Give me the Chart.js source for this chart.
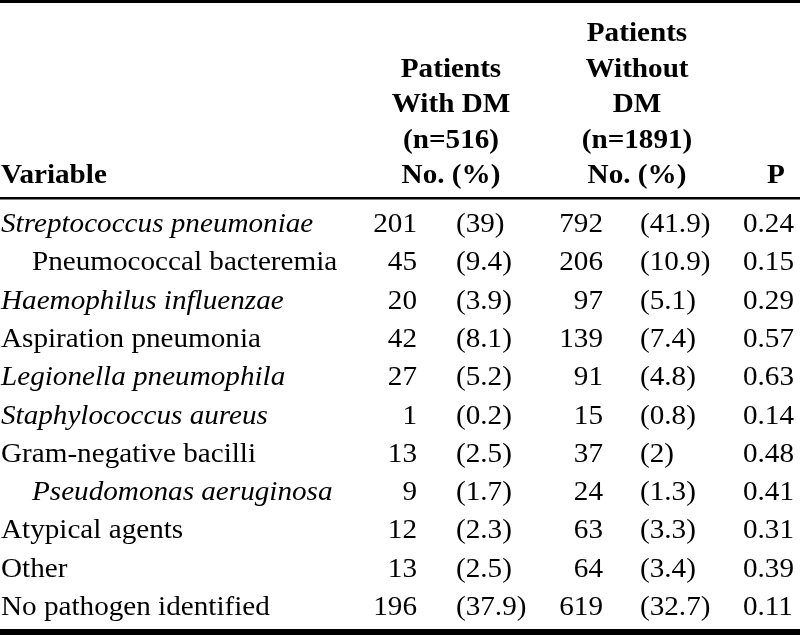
<!DOCTYPE html>
<html>
<head>
<meta charset="utf-8">
<title>Pathogens by diabetes status</title>
<script src="https://cdn.jsdelivr.net/npm/chart.js@4/dist/chart.umd.min.js"></script>
<style>
    html, body { margin: 0; padding: 0; background: #fff; }
    #wrap { width: 800px; height: 635px; }
    /* touch the faces so the browser loads them */
    .preload { position: absolute; left: -999px; font-family: "Liberation Serif"; }
</style>
</head>
<body>
<span class="preload">a</span><span class="preload" style="font-weight:bold">a</span><span class="preload" style="font-style:italic">a</span>
<div id="wrap"><canvas id="tbl" width="800" height="635"></canvas></div>
<script>
// ===== TABLE DATA =====
const variables = [
    'Streptococcus pneumoniae',
    'Pneumococcal bacteremia',
    'Haemophilus influenzae',
    'Aspiration pneumonia',
    'Legionella pneumophila',
    'Staphylococcus aureus',
    'Gram-negative bacilli',
    'Pseudomonas aeruginosa',
    'Atypical agents',
    'Other',
    'No pathogen identified'
];
const italicRows = [true, false, true, false, true, true, false, true, false, false, false];
const indentRows = [false, true, false, false, false, false, false, true, false, false, false];

const dmCount = [201, 45, 20, 42, 27, 1, 13, 9, 12, 13, 196];
const dmPct = ['39', '9.4', '3.9', '8.1', '5.2', '0.2', '2.5', '1.7', '2.3', '2.5', '37.9'];
const noDmCount = [792, 206, 97, 139, 91, 15, 37, 24, 63, 64, 619];
const noDmPct = ['41.9', '10.9', '5.1', '7.4', '4.8', '0.8', '2', '1.3', '3.3', '3.4', '32.7'];
const pValues = ['0.24', '0.15', '0.29', '0.57', '0.63', '0.14', '0.48', '0.41', '0.31', '0.39', '0.11'];

// header lines, bottom-aligned per column
const headVariable = ['Variable'];
const headDm = ['Patients', 'With DM', '(n=516)', 'No. (%)'];
const headNoDm = ['Patients', 'Without', 'DM', '(n=1891)', 'No. (%)'];
const headP = ['P'];

// ===== LAYOUT =====
const FONT = '"Liberation Serif"';
const SIZE = 27;
const STRETCH = 1.08;      // glyphs in the original are set a touch wide
const HEAD_BASE = 183;     // baseline of the last header line
const HEAD_STEP = 35.5;

// column anchors on the x scale (0..800) with alignment
const columns = [
    { key: 'var',   x: 1,   align: 'left'  },
    { key: 'dmN',   x: 417, align: 'right' },
    { key: 'dmP',   x: 456, align: 'left'  },
    { key: 'noN',   x: 603, align: 'right' },
    { key: 'noP',   x: 640, align: 'left'  },
    { key: 'p',     x: 743, align: 'left'  }
];
const headers = [
    { lines: headVariable, x: 1,   align: 'left'   },
    { lines: headDm,       x: 451, align: 'center' },
    { lines: headNoDm,     x: 637, align: 'center' },
    { lines: headP,        x: 776, align: 'center' }
];

function cellText(key, i) {
    switch (key) {
        case 'var': return variables[i];
        case 'dmN': return String(dmCount[i]);
        case 'dmP': return '(' + dmPct[i] + ')';
        case 'noN': return String(noDmCount[i]);
        case 'noP': return '(' + noDmPct[i] + ')';
        default:    return pValues[i];
    }
}

function drawText(ctx, text, x, y, align, style) {
    ctx.save();
    ctx.translate(x, y);
    ctx.scale(STRETCH, 1);
    ctx.font = `${style} ${SIZE}px ${FONT}`;
    ctx.textAlign = align;
    ctx.textBaseline = 'alphabetic';
    ctx.fillStyle = '#000';
    ctx.fillText(text, 0, 0);
    ctx.restore();
}

// Draw rules, header and every cell at its point position
const tablePlugin = {
    id: 'tablePlugin',
    afterDatasetsDraw(chart) {
        const ctx = chart.ctx;
        const w = chart.width;

        // rules
        ctx.save();
        ctx.fillStyle = '#000';
        ctx.fillRect(0, 0, w, 3);
        ctx.fillRect(0, 197, w, 2.5);
        ctx.fillRect(0, 629, w, 6);
        ctx.restore();

        // header
        headers.forEach(h => {
            const n = h.lines.length;
            h.lines.forEach((line, k) => {
                const y = HEAD_BASE - (n - 1 - k) * HEAD_STEP;
                drawText(ctx, line, h.x, y, h.align, 'bold');
            });
        });

        // body cells
        chart.data.datasets.forEach((ds, di) => {
            const col = columns[di];
            chart.getDatasetMeta(di).data.forEach((pt, i) => {
                let x = pt.x;
                let style = 'normal';
                if (col.key === 'var') {
                    if (indentRows[i]) x += 31;
                    if (italicRows[i]) style = 'italic';
                }
                drawText(ctx, cellText(col.key, i), x, pt.y, col.align, style);
            });
        });
    }
};

function buildTable() {
    new Chart(document.getElementById('tbl').getContext('2d'), {
        type: 'scatter',
        data: {
            labels: variables,
            datasets: columns.map(col => ({
                label: col.key,
                data: variables.map(v => ({ x: col.x, y: v })),
                pointRadius: 0,
                pointHoverRadius: 0
            }))
        },
        options: {
            responsive: false,
            animation: false,
            events: [],
            layout: { padding: { top: 232, bottom: 20, left: 0, right: 0 } },
            scales: {
                x: { type: 'linear', min: 0, max: 800, display: false },
                y: { type: 'category', labels: variables, offset: false, display: false }
            },
            plugins: {
                legend: { display: false },
                tooltip: { enabled: false }
            }
        },
        plugins: [tablePlugin]
    });
}

Promise.all([
    document.fonts.load(`normal ${SIZE}px ${FONT}`),
    document.fonts.load(`bold ${SIZE}px ${FONT}`),
    document.fonts.load(`italic ${SIZE}px ${FONT}`)
]).then(buildTable, buildTable);
</script>
</body>
</html>
